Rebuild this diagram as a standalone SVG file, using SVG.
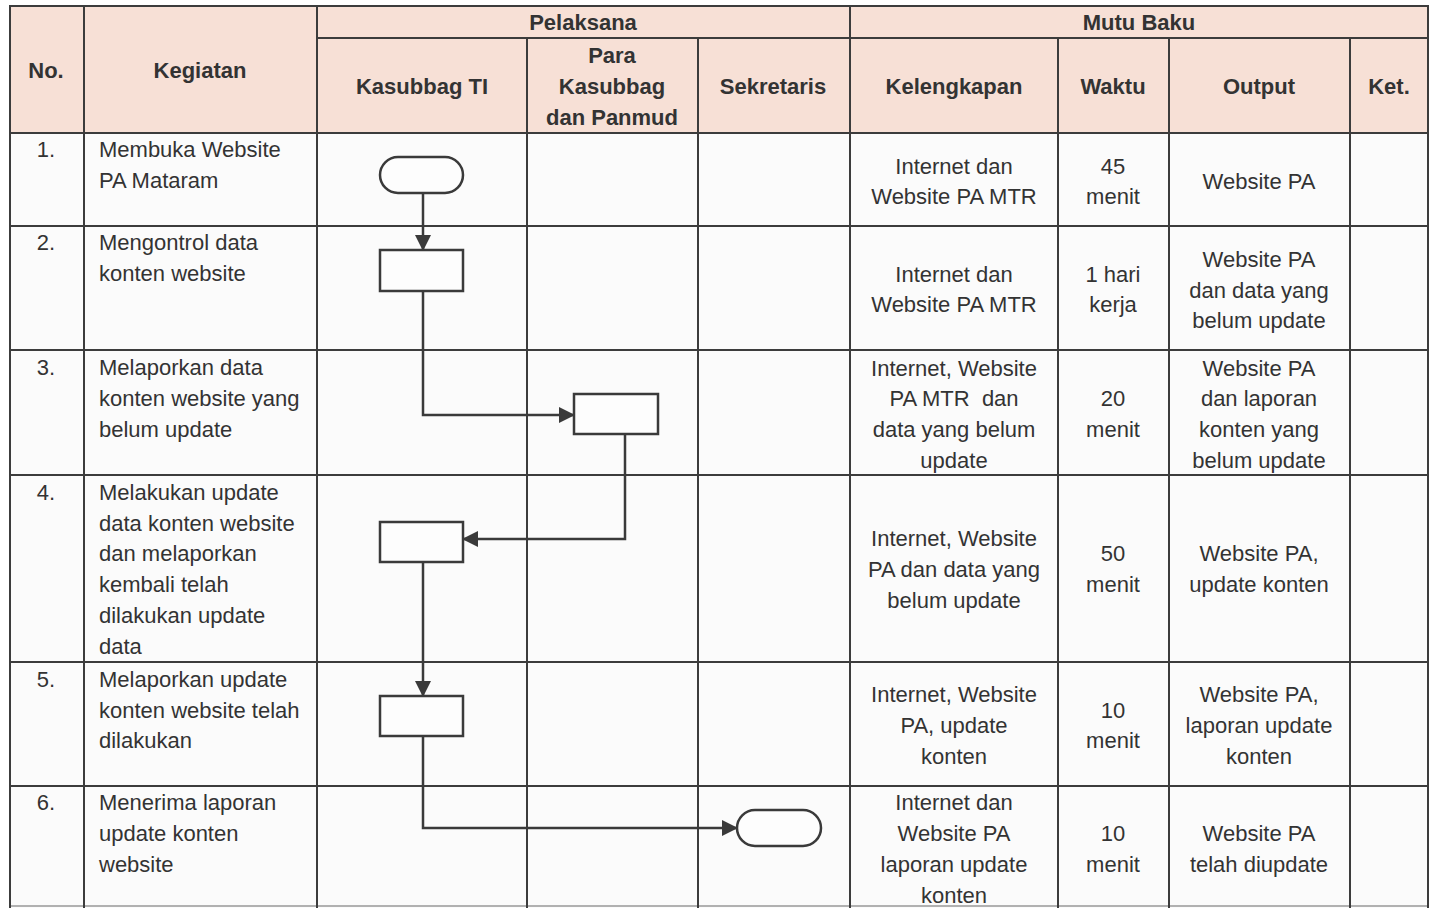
<svg xmlns="http://www.w3.org/2000/svg" width="1435" height="908" viewBox="0 0 1435 908">
<style>
.grid line{stroke:#3c3c3c;stroke-width:2}
text{font-family:"Liberation Sans",Arial,sans-serif;font-size:22px;fill:#333}
.h{font-weight:bold;text-anchor:middle}
.c{text-anchor:middle}
.shape{fill:#fdfdfd;stroke:#3a3a3a;stroke-width:2.5}
.conn{fill:none;stroke:#3a3a3a;stroke-width:2.5}
</style>
<defs>
<marker id="arr" markerUnits="userSpaceOnUse" markerWidth="16" markerHeight="16" refX="15" refY="8" orient="auto">
<path d="M0,0 L16,8 L0,16 z" fill="#3a3a3a"/>
</marker>
</defs>
<rect x="0" y="0" width="1435" height="908" fill="#ffffff"/>
<rect x="10" y="6" width="1418" height="127" fill="#f7e0d6"/>
<rect x="10" y="133" width="1418" height="775" fill="#fbfbfb"/>
<g class="grid" id="table">
<line x1="9" y1="6" x2="1429" y2="6"/>
<line x1="317" y1="38" x2="1428" y2="38"/>
<line x1="9" y1="133" x2="1429" y2="133"/>
<line x1="9" y1="226" x2="1429" y2="226"/>
<line x1="9" y1="350" x2="1429" y2="350"/>
<line x1="9" y1="475" x2="1429" y2="475"/>
<line x1="9" y1="662" x2="1429" y2="662"/>
<line x1="9" y1="786" x2="1429" y2="786"/>
<line x1="9" y1="906" x2="1429" y2="906" style="stroke:#999;stroke-width:1.5"/>
<line x1="10" y1="6" x2="10" y2="908"/>
<line x1="84" y1="6" x2="84" y2="908"/>
<line x1="317" y1="6" x2="317" y2="908"/>
<line x1="527" y1="38" x2="527" y2="908"/>
<line x1="698" y1="38" x2="698" y2="908"/>
<line x1="850" y1="6" x2="850" y2="908"/>
<line x1="1058" y1="38" x2="1058" y2="908"/>
<line x1="1169" y1="38" x2="1169" y2="908"/>
<line x1="1350" y1="38" x2="1350" y2="908"/>
<line x1="1428" y1="6" x2="1428" y2="908"/>
</g>
<g id="header">
<text class="h" x="46" y="78">No.</text>
<text class="h" x="200" y="78">Kegiatan</text>
<text class="h" x="583" y="30">Pelaksana</text>
<text class="h" x="1139" y="30">Mutu Baku</text>
<text class="h" x="422" y="94">Kasubbag TI</text>
<text class="h" x="612" y="63">Para</text>
<text class="h" x="612" y="94">Kasubbag</text>
<text class="h" x="612" y="125">dan Panmud</text>
<text class="h" x="773" y="94">Sekretaris</text>
<text class="h" x="954" y="94">Kelengkapan</text>
<text class="h" x="1113" y="94">Waktu</text>
<text class="h" x="1259" y="94">Output</text>
<text class="h" x="1389" y="94">Ket.</text>
</g>
<g id="row1">
<text class="c" x="46" y="157">1.</text>
<text x="99" y="157">Membuka Website</text>
<text x="99" y="188">PA Mataram</text>
<text class="c" x="954" y="174">Internet dan</text>
<text class="c" x="954" y="204">Website PA MTR</text>
<text class="c" x="1113" y="174">45</text>
<text class="c" x="1113" y="204">menit</text>
<text class="c" x="1259" y="189">Website PA</text>
</g>
<g id="row2">
<text class="c" x="46" y="250">2.</text>
<text x="99" y="250">Mengontrol data</text>
<text x="99" y="281">konten website</text>
<text class="c" x="954" y="282">Internet dan</text>
<text class="c" x="954" y="312">Website PA MTR</text>
<text class="c" x="1113" y="282">1 hari</text>
<text class="c" x="1113" y="312">kerja</text>
<text class="c" x="1259" y="267">Website PA</text>
<text class="c" x="1259" y="298">dan data yang</text>
<text class="c" x="1259" y="328">belum update</text>
</g>
<g id="row3">
<text class="c" x="46" y="375">3.</text>
<text x="99" y="375">Melaporkan data</text>
<text x="99" y="406">konten website yang</text>
<text x="99" y="437">belum update</text>
<text class="c" x="954" y="376">Internet, Website</text>
<text class="c" x="954" y="406" xml:space="preserve">PA MTR  dan</text>
<text class="c" x="954" y="437">data yang belum</text>
<text class="c" x="954" y="468">update</text>
<text class="c" x="1113" y="406">20</text>
<text class="c" x="1113" y="437">menit</text>
<text class="c" x="1259" y="376">Website PA</text>
<text class="c" x="1259" y="406">dan laporan</text>
<text class="c" x="1259" y="437">konten yang</text>
<text class="c" x="1259" y="468">belum update</text>
</g>
<g id="row4">
<text class="c" x="46" y="500">4.</text>
<text x="99" y="500">Melakukan update</text>
<text x="99" y="531">data konten website</text>
<text x="99" y="561">dan melaporkan</text>
<text x="99" y="592">kembali telah</text>
<text x="99" y="623">dilakukan update</text>
<text x="99" y="654">data</text>
<text class="c" x="954" y="546">Internet, Website</text>
<text class="c" x="954" y="577">PA dan data yang</text>
<text class="c" x="954" y="608">belum update</text>
<text class="c" x="1113" y="561">50</text>
<text class="c" x="1113" y="592">menit</text>
<text class="c" x="1259" y="561">Website PA,</text>
<text class="c" x="1259" y="592">update konten</text>
</g>
<g id="row5">
<text class="c" x="46" y="687">5.</text>
<text x="99" y="687">Melaporkan update</text>
<text x="99" y="718">konten website telah</text>
<text x="99" y="748">dilakukan</text>
<text class="c" x="954" y="702">Internet, Website</text>
<text class="c" x="954" y="733">PA, update</text>
<text class="c" x="954" y="764">konten</text>
<text class="c" x="1113" y="718">10</text>
<text class="c" x="1113" y="748">menit</text>
<text class="c" x="1259" y="702">Website PA,</text>
<text class="c" x="1259" y="733">laporan update</text>
<text class="c" x="1259" y="764">konten</text>
</g>
<g id="row6">
<text class="c" x="46" y="810">6.</text>
<text x="99" y="810">Menerima laporan</text>
<text x="99" y="841">update konten</text>
<text x="99" y="872">website</text>
<text class="c" x="954" y="810">Internet dan</text>
<text class="c" x="954" y="841">Website PA</text>
<text class="c" x="954" y="872">laporan update</text>
<text class="c" x="954" y="903">konten</text>
<text class="c" x="1113" y="841">10</text>
<text class="c" x="1113" y="872">menit</text>
<text class="c" x="1259" y="841">Website PA</text>
<text class="c" x="1259" y="872">telah diupdate</text>
</g>
<g id="connectors">
<path class="conn" d="M423,193 L423,250" marker-end="url(#arr)"/>
<path class="conn" d="M423,291 L423,415 L574,415" marker-end="url(#arr)"/>
<path class="conn" d="M625,434 L625,539 L463,539" marker-end="url(#arr)"/>
<path class="conn" d="M423,562 L423,696" marker-end="url(#arr)"/>
<path class="conn" d="M423,736 L423,828 L737,828" marker-end="url(#arr)"/>
</g>
<g id="start"><rect class="shape" x="380" y="157" width="83" height="36" rx="18"/></g>
<g id="step2"><rect class="shape" x="380" y="250" width="83" height="41"/></g>
<g id="step3"><rect class="shape" x="574" y="394" width="84" height="40"/></g>
<g id="step4"><rect class="shape" x="380" y="522" width="83" height="40"/></g>
<g id="step5"><rect class="shape" x="380" y="696" width="83" height="40"/></g>
<g id="end"><rect class="shape" x="737" y="810" width="84" height="36" rx="18"/></g>
</svg>
